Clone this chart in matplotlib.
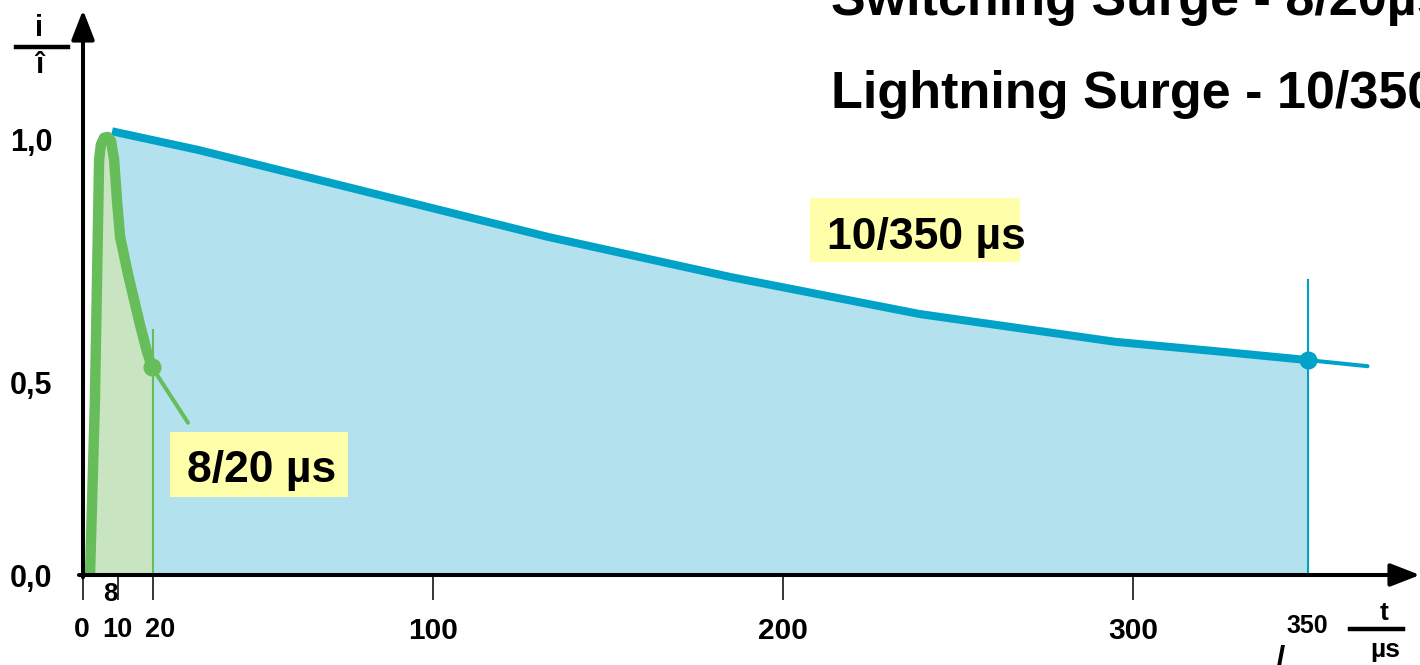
import matplotlib
matplotlib.use("Agg")
import matplotlib.pyplot as plt
from matplotlib.patches import Rectangle
import matplotlib.transforms as mtransforms

# ---------------- data ----------------
lightning_t = [8.3, 33.0, 133.0, 185.0, 239.0, 295.0, 323.0, 350.0]
lightning_i = [1.02, 0.977, 0.777, 0.685, 0.60, 0.536, 0.515, 0.494]
lightning_tail_t = [350.0, 367.0]
lightning_tail_i = [0.494, 0.48]

switching_t = [2.0, 3.4, 4.6, 5.1, 6.0, 7.1, 8.0, 8.9, 9.7, 10.6, 12.9, 16.3, 18.3, 19.7]
switching_i = [0.0, 0.40, 0.954, 0.989, 1.005, 1.007, 0.998, 0.954, 0.862, 0.777,
               0.69, 0.575, 0.513, 0.478]
switching_tail_t = [19.7, 30.0]
switching_tail_i = [0.478, 0.35]

xtick_vals = [0, 10, 20, 100, 200, 300]
xtick_labels = ["0", "10", "20", "100", "200", "300"]
ytick_vals = [0.0, 0.5, 1.0]
ytick_labels = ["0,0", "0,5", "1,0"]

# ---------------- style ----------------
W, H = 1420, 665
BLUE = "#00A2C8"
BLUE_FILL = "#B3E2EE"
GREEN = "#66BD5A"
GREEN_FILL = "#C8E4C0"
YELLOW = "#FFFFAA"
FONT = "Liberation Sans"

plt.rcParams["font.family"] = [FONT, "DejaVu Sans"]

fig = plt.figure(figsize=(W / 100, H / 100), dpi=100)
ax = fig.add_axes([83 / W, 90 / H, 1337 / W, 565 / H])
ax.set_xlim(0, 1337 / 3.5)
ax.set_ylim(0, 565 / 435)
for s in ax.spines.values():
    s.set_visible(False)

# fills
ax.fill([switching_t[0]] + lightning_t + [lightning_t[-1]],
        [0.0] + lightning_i + [0.0], color=BLUE_FILL, lw=0, zorder=1)
ax.fill(switching_t + [20.0, 20.0], switching_i + [switching_i[-1], 0.0],
        color=GREEN_FILL, lw=0, zorder=2)

# vertical markers
ax.plot([350, 350], [0, 0.678], color=BLUE, lw=1.5, zorder=3)
ax.plot([20, 20], [0, 0.563], color=GREEN, lw=1.5, zorder=3)

# curves
ax.plot(lightning_t, lightning_i, color=BLUE, lw=5.8, solid_capstyle="butt", zorder=4)
ax.plot(lightning_tail_t, lightning_tail_i, color=BLUE, lw=2.9, solid_capstyle="round", zorder=4)
ax.plot(switching_t, switching_i, color=GREEN, lw=7.5, solid_capstyle="butt",
        solid_joinstyle="round", zorder=5)
ax.plot(switching_tail_t, switching_tail_i, color=GREEN, lw=2.9, solid_capstyle="round", zorder=5)
ax.plot([lightning_t[-1]], [lightning_i[-1]], "o", color=BLUE, ms=12, zorder=6)
ax.plot([switching_t[-1]], [switching_i[-1]], "o", color=GREEN, ms=12, zorder=6)

# label boxes
ax.add_patch(Rectangle((207.7, 0.72), 60.0, 0.147, color=YELLOW, lw=0, zorder=7))
ax.text(212.6, 0.777, "10/350 µs", fontsize=32, fontweight="bold", va="center",
        ha="left", zorder=8)
ax.add_patch(Rectangle((24.9, 0.179), 50.8, 0.150, color=YELLOW, lw=0, zorder=7))
ax.text(29.7, 0.241, "8/20 µs", fontsize=32, fontweight="bold", va="center",
        ha="left", zorder=8)

# axes arrows
arrow_kw = dict(arrowstyle="-|>,head_length=0.9,head_width=0.35", lw=2.9,
                color="black", shrinkA=0, shrinkB=0, mutation_scale=20)
ax.annotate("", xy=(1.0, 0.0), xytext=(-0.003, 0.0), xycoords="axes fraction",
            arrowprops=arrow_kw, annotation_clip=False, zorder=10)
ax.annotate("", xy=(0.0, 1.0), xytext=(0.0, -0.004), xycoords="axes fraction",
            arrowprops=arrow_kw, annotation_clip=False, zorder=10)

# ticks
ax.set_xticks(xtick_vals)
ax.set_xticklabels(xtick_labels, fontsize=21.5, fontweight="bold")
ax.tick_params(axis="x", direction="out", length=18, width=1.1, pad=12, color="black")
label_shift = {"0": (-1, 0, 20.5), "10": (-1, 0, 19.5), "20": (7, 0, 19.5)}
for lab in ax.get_xticklabels():
    key = lab.get_text()
    if key in label_shift:
        dx, dy, fs = label_shift[key]
        lab.set_fontsize(fs)
        lab.set_transform(lab.get_transform() +
                          mtransforms.ScaledTranslation(dx / 100, dy / 100, fig.dpi_scale_trans))
ax.set_yticks(ytick_vals)
ax.set_yticklabels(ytick_labels, fontsize=22, fontweight="bold")
ax.tick_params(axis="y", length=0, pad=22)
for lab in ax.get_yticklabels():
    if lab.get_text() == "0,5":
        lab.set_transform(lab.get_transform() +
                          mtransforms.ScaledTranslation(0, -25 / 100, fig.dpi_scale_trans))

def fx(x):
    return x / W

def fy(y):
    return 1 - y / H

# extra axis texts
fig.text(fx(110), fy(594), "8", fontsize=18.5, fontweight="bold", ha="center", va="center")
fig.text(fx(1307), fy(626), "350", fontsize=18, fontweight="bold", ha="center", va="center")

# i / î fraction
fig.text(fx(39), fy(28), "i", fontsize=21, fontweight="bold", ha="center", va="center")
fig.add_artist(plt.Line2D([fx(16), fx(68)], [fy(47), fy(47)], color="black", lw=3.2))
fig.text(fx(39), fy(65), "î", fontsize=21, fontweight="bold", ha="center", va="center")

# t / µs fraction
fig.text(fx(1384), fy(613), "t", fontsize=19, fontweight="bold", ha="center", va="center")
fig.add_artist(plt.Line2D([fx(1350), fx(1403)], [fy(628.5), fy(628.5)], color="black", lw=3.2))
fig.text(fx(1385), fy(650), "µs", fontsize=19, fontweight="bold", ha="center", va="center")

# stray glyph near 350 label
fig.text(fx(1280), fy(660), "/", fontsize=24, fontweight="bold", ha="center", va="center")

# titles (cut off at the right edge, as in the original)
fig.text(fx(831), fy(15), "Switching Surge - 8/20µs", fontsize=37.5, fontweight="bold",
         ha="left", va="baseline")
fig.text(fx(831), fy(108), "Lightning Surge - 10/350µs", fontsize=37.5, fontweight="bold",
         ha="left", va="baseline")

fig.savefig("out.png", dpi=100)
